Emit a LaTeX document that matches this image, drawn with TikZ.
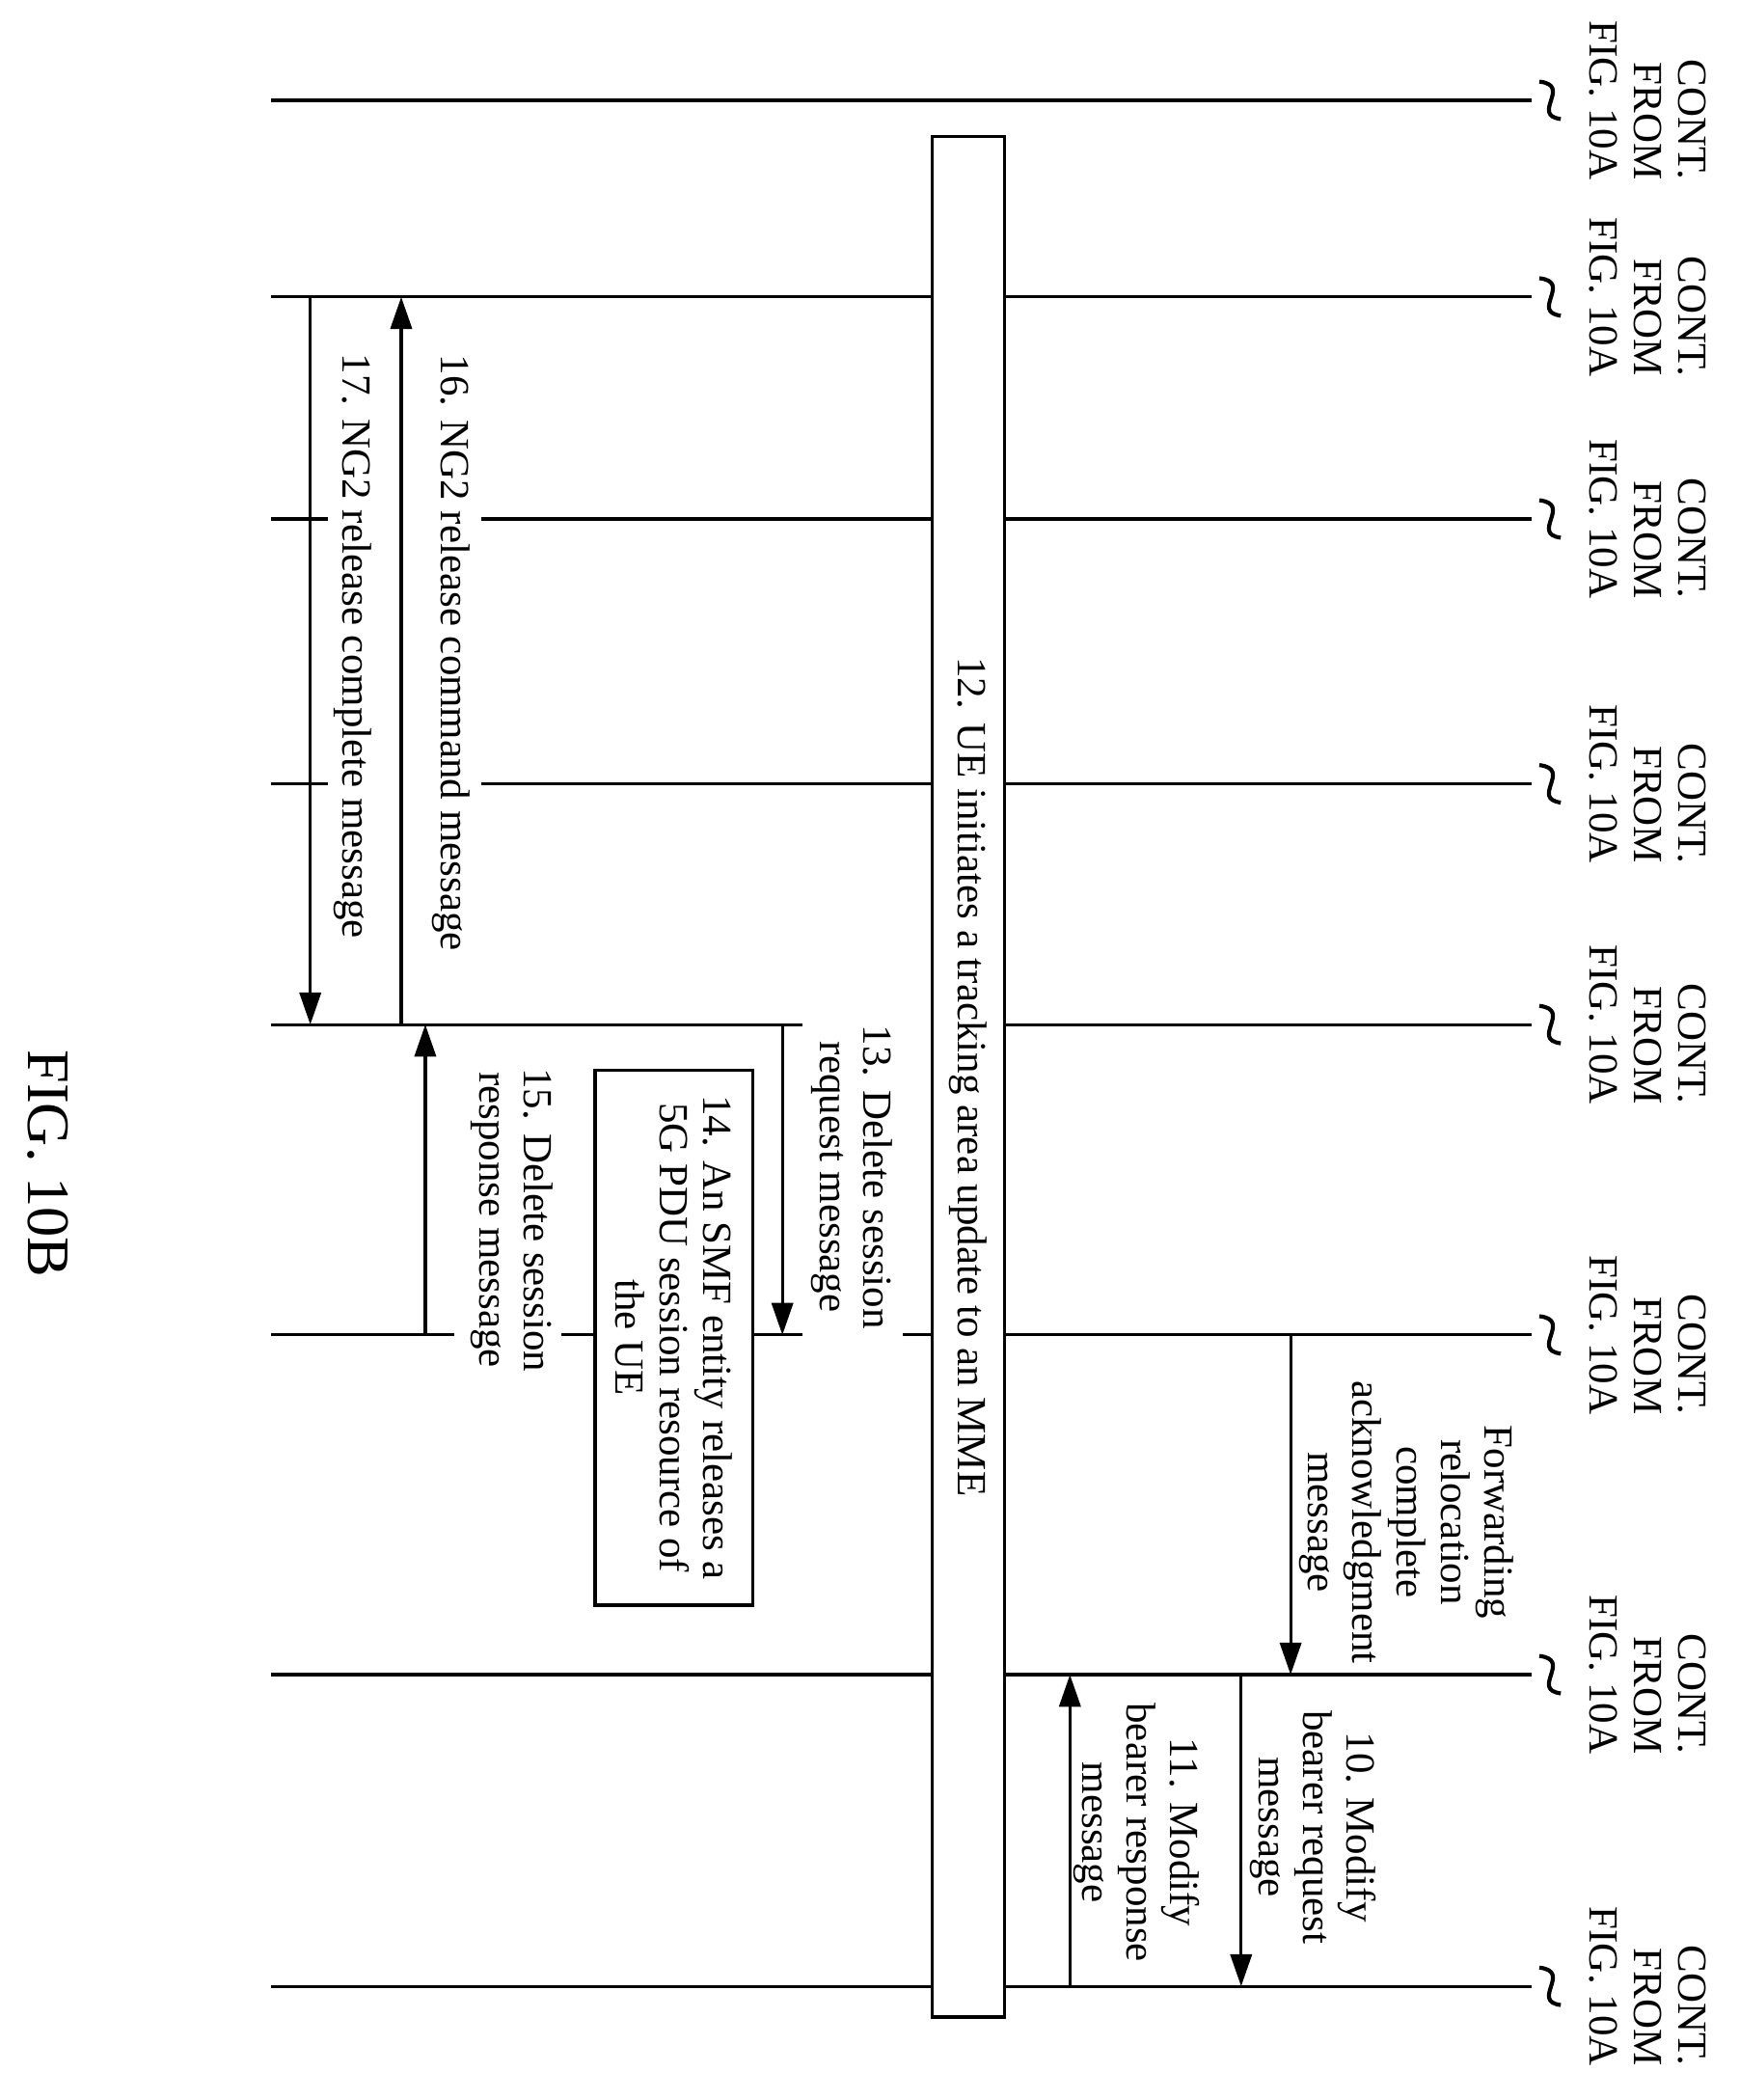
\documentclass[tikz,border=0pt]{standalone}
\usepackage{fontspec}
\setmainfont{Liberation Serif}
\usetikzlibrary{arrows.meta, positioning}

\begin{document}
\begin{tikzpicture}[
    x=1pt, y=-1pt,
    % Define styles for consistency
    lifeline/.style={line width=2.3pt},
    msg/.style={line width=2.3pt, -{Triangle[length=24pt, width=16pt]}},
    rlabel/.style={rotate=-90, font=\fontsize{31}{33}\selectfont, align=center, inner sep=0pt},
    contlabel/.style={rlabel, align=right},
    procbox/.style={draw, line width=2.3pt, fill=white}
]
    \useasboundingbox (0,0) rectangle (1300,1570);

    % ---------------------------------------------------------
    % 1. Lifelines continued from the previous sheet
    % ---------------------------------------------------------
    \foreach \y/\name in {75/la, 222/lb, 388/lc, 586/ld, 766/le, 998/lf, 1252/lg, 1485/lh} {
        \coordinate (\name-l) at (203, \y);
        \coordinate (\name-r) at (1145, \y);
        \draw[line width=3pt] (1151, \y-14) .. controls (1176, \y-11) and (1144, \y+11) .. (1167, \y+14);
        \node[contlabel] (\name-cont) at (1232, \y) {CONT.\\FROM\\FIG. 10A};
    }

    % lifelines (with gaps where labels cross them)
    \draw[lifeline] (la-l) -- (la-r);
    \draw[lifeline] (lb-l) -- (lb-r);
    \draw[lifeline] (lc-l) -- (245, 388) (360, 388) -- (lc-r);
    \draw[lifeline] (ld-l) -- (245, 586) (360, 586) -- (ld-r);
    \draw[lifeline] (le-l) -- (600, 766) (751, 766) -- (le-r);
    \draw[lifeline] (lf-l) -- (340, 998) (420, 998) -- (600, 998) (675, 998) -- (lf-r);
    \draw[lifeline] (lg-l) -- (lg-r);
    \draw[lifeline] (lh-l) -- (lh-r);

    % ---------------------------------------------------------
    % 2. Procedure boxes
    % ---------------------------------------------------------
    \node[procbox, minimum width=54pt, minimum height=1406pt] (tau) at (724, 805) {};
    \node[rlabel] at (tau) {12. UE initiates a tracking area update to an MME};

    \node[procbox, minimum width=118pt, minimum height=400pt] (smf) at (504, 1000) {};
    \node[rlabel] at (smf) {14. An SMF entity releases a\\5G PDU session resource of\\the UE};

    % ---------------------------------------------------------
    % 3. Messages
    % ---------------------------------------------------------
    \draw[msg] (965, 998) -- (965, 1252);
    \node[rlabel] (fwd) at (1052, 1138) {Forwarding\\relocation\\complete\\acknowledgment\\message};

    \draw[msg] (928, 1252) -- (928, 1485);
    \node[rlabel] (m10) at (982, 1366) {10. Modify\\bearer request\\message};

    \draw[msg] (800, 1485) -- (800, 1252);
    \node[rlabel] (m11) at (850, 1370) {11. Modify\\bearer response\\message};

    \draw[msg] (585, 766) -- (585, 998);
    \node[rlabel] (m13) at (637, 880) {13. Delete session\\request message};

    \draw[msg] (318, 998) -- (318, 766);
    \node[rlabel] (m15) at (383, 912) {15. Delete session\\response message};

    \draw[msg] (300, 766) -- (300, 222);
    \node[rlabel] (m16) at (337, 488) {16. NG2 release command message};

    \draw[msg] (232, 222) -- (232, 766);
    \node[rlabel] (m17) at (264, 483) {17. NG2 release complete message};

    % ---------------------------------------------------------
    % 4. Caption
    % ---------------------------------------------------------
    \node[rlabel, font=\fontsize{45}{50}\selectfont] (cap) at (36, 870) {FIG. 10B};
\end{tikzpicture}
\end{document}
